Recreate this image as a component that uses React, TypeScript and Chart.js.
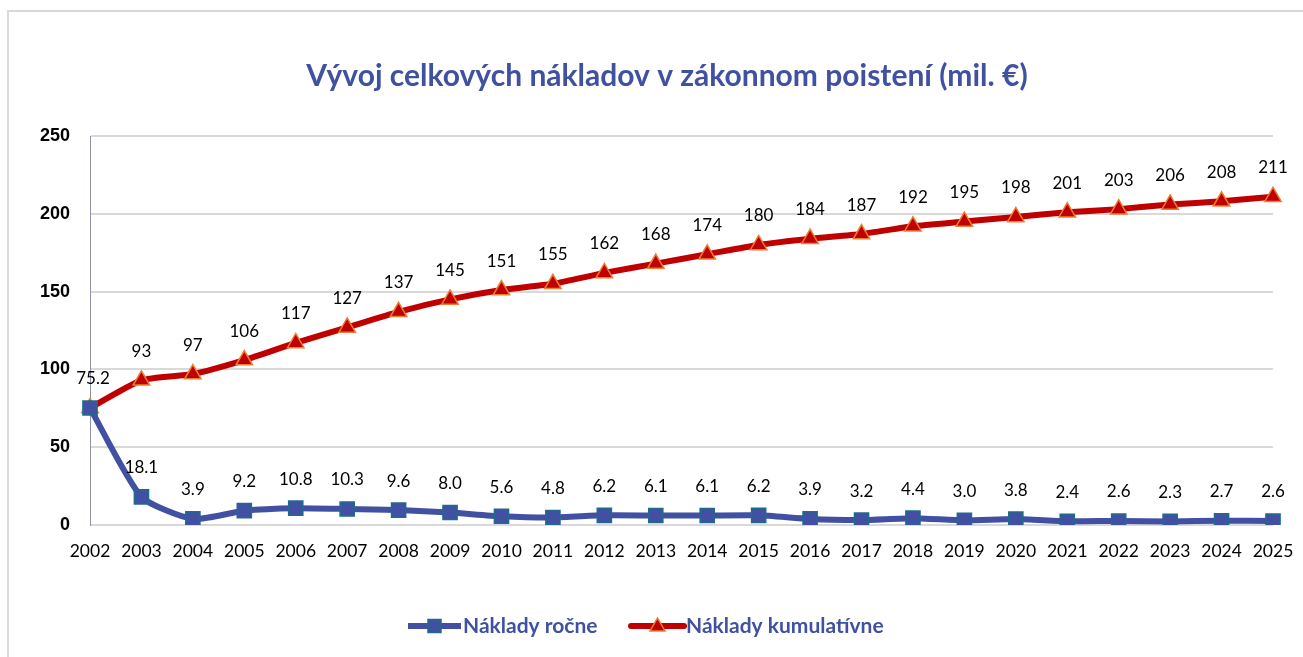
import React, { useEffect, useRef } from "react";
import { Chart, registerables } from "chart.js";

Chart.register(...registerables);

const chartTitle = "Vývoj celkových nákladov v zákonnom poistení (mil. €)";
const years = [
  "2002", "2003", "2004", "2005", "2006", "2007", "2008", "2009", "2010", "2011", "2012", "2013",
  "2014", "2015", "2016", "2017", "2018", "2019", "2020", "2021", "2022", "2023", "2024", "2025",
];
const annualCosts = [
  75.2, 18.1, 3.9, 9.2, 10.8, 10.3, 9.6, 8.0, 5.6, 4.8, 6.2, 6.1,
  6.1, 6.2, 3.9, 3.2, 4.4, 3.0, 3.8, 2.4, 2.6, 2.3, 2.7, 2.6,
];
const cumulativeCosts = [
  75.2, 93, 97, 106, 117, 127, 137, 145, 151, 155, 162, 168,
  174, 180, 184, 187, 192, 195, 198, 201, 203, 206, 208, 211,
];
const seriesNames = ["Náklady ročne", "Náklady kumulatívne"];
const yMin = 0;
const yMax = 250;
const yStep = 50;

const BLUE = "#4150a3";
const BLUE_EDGE = "#1f6b8a";
const RED = "#c00000";
const RED_EDGE = "#ed7d31";
const TEXT_BLUE = "#3f51a0";
const LABEL_FONT = "Lato, 'Open Sans', sans-serif";

function fmtLabel(dsIndex: number, i: number, v: number): string {
  if (dsIndex === 0) return v.toFixed(1);
  return i === 0 ? v.toFixed(1) : v.toFixed(0);
}

const dataLabelPlugin = {
  id: "dataLabels",
  afterDatasetsDraw(chart: any) {
    const ctx = chart.ctx;
    ctx.save();
    ctx.font = `17px ${LABEL_FONT}`;
    ctx.fillStyle = "#000";
    ctx.textAlign = "center";
    ctx.textBaseline = "middle";
    chart.data.datasets.forEach((ds: any, di: number) => {
      const meta = chart.getDatasetMeta(di);
      meta.data.forEach((pt: any, i: number) => {
        if (di === 0 && i === 0) return;
        const v = ds.data[i] as number;
        ctx.fillText(fmtLabel(di, i, v), pt.x + (i === 0 ? 3 : 0), pt.y - 29);
      });
    });
    ctx.restore();
  },
};

const titleLegendPlugin = {
  id: "titleLegend",
  afterDraw(chart: any) {
    const ctx = chart.ctx;
    ctx.save();
    ctx.font = `bold 30px ${LABEL_FONT}`;
    ctx.fillStyle = TEXT_BLUE;
    ctx.textAlign = "center";
    ctx.textBaseline = "middle";
    ctx.fillText(chartTitle, 667, 76);

    const items = [
      { x: 408, ds: chart.data.datasets[0] },
      { x: 631, ds: chart.data.datasets[1] },
    ];
    const ly = 626;
    items.forEach((it, k) => {
      const ds = it.ds;
      ctx.strokeStyle = ds.borderColor;
      ctx.lineWidth = 6;
      ctx.lineCap = k === 1 ? "round" : "butt";
      ctx.beginPath();
      ctx.moveTo(it.x, ly);
      ctx.lineTo(it.x + 53, ly);
      ctx.stroke();
      const cx = it.x + 26.5;
      ctx.fillStyle = ds.pointBackgroundColor;
      ctx.strokeStyle = ds.pointBorderColor;
      ctx.lineWidth = ds.pointBorderWidth;
      ctx.beginPath();
      if (k === 0) {
        ctx.rect(cx - 6.5, ly - 6.5, 13, 13);
      } else {
        ctx.moveTo(cx, ly - 8);
        ctx.lineTo(cx + 7.5, ly + 5);
        ctx.lineTo(cx - 7.5, ly + 5);
        ctx.closePath();
      }
      ctx.fill();
      ctx.stroke();
      ctx.font = `bold 21px ${LABEL_FONT}`;
      ctx.fillStyle = TEXT_BLUE;
      ctx.textAlign = "left";
      ctx.textBaseline = "middle";
      ctx.fillText(ds.label, it.x + 55, ly);
    });
    ctx.restore();
  },
};

export default function App() {
  const canvasRef = useRef<HTMLCanvasElement | null>(null);

  useEffect(() => {
    const canvas = canvasRef.current;
    if (!canvas) return;
    const chart = new Chart(canvas, {
      type: "line",
      data: {
        labels: years,
        datasets: [
          {
            label: seriesNames[0],
            data: annualCosts,
            borderColor: BLUE,
            borderWidth: 6,
            tension: 0.2,
            pointStyle: "rect",
            pointRadius: 10,
            pointBackgroundColor: BLUE,
            pointBorderColor: BLUE_EDGE,
            pointBorderWidth: 1.5,
          },
          {
            label: seriesNames[1],
            data: cumulativeCosts,
            borderColor: RED,
            borderWidth: 6,
            tension: 0.2,
            pointStyle: "triangle",
            pointRadius: 9.5,
            pointBackgroundColor: RED,
            pointBorderColor: RED_EDGE,
            pointBorderWidth: 1.5,
          },
        ],
      },
      options: {
        responsive: false,
        animation: false,
        devicePixelRatio: 1,
        layout: { padding: { left: 8, right: 30, top: 136, bottom: 0 } },
        plugins: {
          legend: { display: false },
          title: { display: false },
          tooltip: { enabled: false },
        },
        scales: {
          x: {
            type: "category",
            offset: false,
            grid: { display: false, drawTicks: false },
            border: { display: false },
            ticks: {
              color: "#000",
              font: { family: LABEL_FONT, size: 17.5 },
              padding: 16,
              maxRotation: 0,
              autoSkip: false,
            },
            afterFit(scale: any) {
              scale.height = 132;
              scale.paddingLeft = 0;
              scale.paddingRight = 0;
            },
          },
          y: {
            min: yMin,
            max: yMax,
            ticks: {
              stepSize: yStep,
              color: "#000",
              font: { family: "'Liberation Sans', Arial, sans-serif", size: 18, weight: "bold" },
              padding: 20,
            },
            grid: { color: "#d9d9d9", lineWidth: 2, drawTicks: false },
            border: { display: true, color: "#8e93a8", width: 1 },
            afterFit(scale: any) {
              scale.width = 82;
            },
          },
        },
      },
      plugins: [dataLabelPlugin, titleLegendPlugin],
    } as any);
    return () => chart.destroy();
  }, []);

  return (
    <div style={{ position: "fixed", left: 0, top: 0, width: 1303, height: 657, overflow: "hidden", background: "#fff" }}>
      <div
        style={{
          position: "absolute",
          left: 7,
          top: 10,
          width: 1400,
          height: 800,
          border: "2px solid #d9d9d9",
          boxSizing: "border-box",
        }}
      />
      <canvas
        ref={canvasRef}
        width={1303}
        height={657}
        style={{ position: "absolute", left: 0, top: 0, width: 1303, height: 657 }}
      />
    </div>
  );
}
